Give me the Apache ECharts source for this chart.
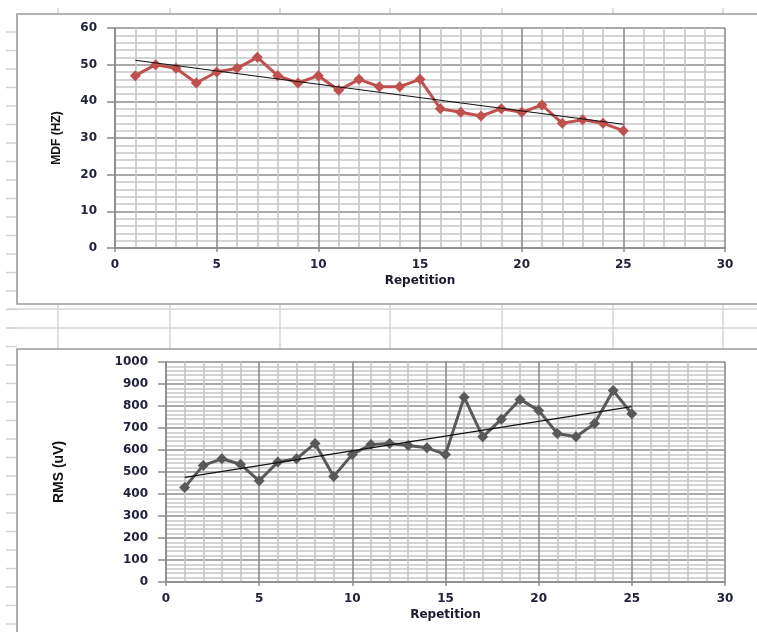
<!DOCTYPE html>
<html>
<head>
<meta charset="utf-8">
<script src="https://cdn.jsdelivr.net/npm/echarts@6/dist/echarts.min.js"></script>
<style>
  html, body { margin: 0; padding: 0; background: #fff; }
  #chart { width: 757px; height: 632px; }
</style>
</head>
<body>
<div id="chart"></div>
<script>
// Repetition number for both panels
const repetitions = [1,2,3,4,5,6,7,8,9,10,11,12,13,14,15,16,17,18,19,20,21,22,23,24,25];
// Median frequency per repetition (Hz)
const mdfValues = [47,50,49,45,48,49,52,47,45,47,43,46,44,44,46,38,37,36,38,37,39,34,35,34,32];
// RMS amplitude per repetition (uV)
const rmsValues = [430,530,560,535,460,545,560,630,480,580,625,630,620,610,580,840,660,740,830,780,675,660,720,870,765];

const xTicks = [0,5,10,15,20,25,30];
const mdfTicks = [0,10,20,30,40,50,60];
const rmsTicks = [0,100,200,300,400,500,600,700,800,900,1000];

// Least-squares linear trend over a series
function linearTrend(xs, ys) {
  const n = xs.length;
  const mx = xs.reduce((a, b) => a + b, 0) / n;
  const my = ys.reduce((a, b) => a + b, 0) / n;
  let sxy = 0, sxx = 0;
  for (let i = 0; i < n; i++) {
    sxy += (xs[i] - mx) * (ys[i] - my);
    sxx += (xs[i] - mx) * (xs[i] - mx);
  }
  const slope = sxy / sxx;
  const icpt = my - slope * mx;
  const x0 = xs[0], x1 = xs[n - 1];
  return [[x0, icpt + slope * x0], [x1, icpt + slope * x1]];
}

const pair = (xs, ys) => xs.map((x, i) => [x, ys[i]]);

const labelFont = { fontFamily: 'DejaVu Sans', fontWeight: 'bold', fontSize: 12, color: '#22223c' };
const titleFont = { fontFamily: 'Liberation Sans Narrow, Liberation Sans, Arial', fontWeight: 'bold', color: '#111' };

function xAxisFor(gridIndex) {
  return {
    type: 'value', gridIndex: gridIndex,
    min: xTicks[0], max: xTicks[xTicks.length - 1], interval: 5,
    name: 'Repetition', nameLocation: 'middle', nameGap: 27,
    nameTextStyle: Object.assign({}, labelFont, { fontSize: 12, color: '#1a1a30' }),
    axisLine: { show: true, lineStyle: { color: '#8a8a8a', width: 1.5 } },
    axisTick: { show: true, length: 4, lineStyle: { color: '#8a8a8a', width: 1.5 } },
    axisLabel: Object.assign({ margin: 11, formatter: v => String(v) }, labelFont),
    splitLine: { show: true, lineStyle: { color: '#8c8c8c', width: 1.6 } },
    minorTick: { show: false, splitNumber: 5 },
    minorSplitLine: { show: true, lineStyle: { color: '#c6c6c6', width: 1.6 } }
  };
}

function yAxisFor(gridIndex, ticks, name, gap, nameSize) {
  return {
    type: 'value', gridIndex: gridIndex,
    min: ticks[0], max: ticks[ticks.length - 1], interval: ticks[1] - ticks[0],
    name: name, nameLocation: 'middle', nameRotate: 90, nameGap: gap,
    nameTextStyle: Object.assign({}, titleFont, { fontSize: nameSize }),
    axisLine: { show: true, lineStyle: { color: '#8a8a8a', width: 1.5 } },
    axisTick: { show: true, length: 8, lineStyle: { color: '#8a8a8a', width: 1.5 } },
    axisLabel: Object.assign({ margin: 18, formatter: v => String(v) }, labelFont),
    splitLine: { show: true, lineStyle: { color: '#8c8c8c', width: 1.6 } },
    minorTick: { show: false, splitNumber: 5 },
    minorSplitLine: { show: true, lineStyle: { color: '#c6c6c6', width: 1.6 } }
  };
}

// Worksheet cell borders and chart frames behind the plots
const sheetLine = '#d4d4d4';
const cellCols = [58, 170, 280, 390, 502, 613, 723];
const graphics = [];
cellCols.forEach(x => {
  graphics.push({ type: 'line', z: -20, shape: { x1: x, y1: 304, x2: x, y2: 349 }, style: { stroke: sheetLine, lineWidth: 1.5 } });
  graphics.push({ type: 'line', z: -20, shape: { x1: x, y1: 8, x2: x, y2: 14 }, style: { stroke: sheetLine, lineWidth: 1.5 } });
});
[309, 328].forEach(y => {
  graphics.push({ type: 'line', z: -20, shape: { x1: 8, y1: y, x2: 757, y2: y }, style: { stroke: sheetLine, lineWidth: 1.5 } });
});
for (let y = 32; y < 632; y += 18.5) {
  graphics.push({ type: 'line', z: -20, shape: { x1: 6, y1: y, x2: 17, y2: y }, style: { stroke: sheetLine, lineWidth: 1.5 } });
}
graphics.push({ type: 'rect', z: -10, shape: { x: 17, y: 14, width: 750, height: 290 }, style: { fill: '#fff', stroke: '#9a9a9a', lineWidth: 1.6 } });
graphics.push({ type: 'rect', z: -10, shape: { x: 17, y: 349, width: 750, height: 300 }, style: { fill: '#fff', stroke: '#9a9a9a', lineWidth: 1.6 } });

const option = {
  backgroundColor: '#ffffff',
  animation: false,
  graphic: graphics,
  grid: [
    { left: 115, top: 28, width: 610, height: 220 },
    { left: 166, top: 362, width: 559, height: 220 }
  ],
  xAxis: [xAxisFor(0), xAxisFor(1)],
  yAxis: [
    yAxisFor(0, mdfTicks, 'MDF (HZ)', 52, 12),
    yAxisFor(1, rmsTicks, 'RMS (uV)', 100, 14)
  ],
  series: [
    {
      type: 'line', xAxisIndex: 0, yAxisIndex: 0,
      data: pair(repetitions, mdfValues),
      symbol: 'diamond', symbolSize: 11,
      itemStyle: { color: '#c0504d' },
      lineStyle: { color: '#c0504d', width: 3 },
      z: 3
    },
    {
      type: 'line', xAxisIndex: 0, yAxisIndex: 0,
      data: linearTrend(repetitions, mdfValues),
      symbol: 'none',
      lineStyle: { color: '#111', width: 1.2 },
      z: 4
    },
    {
      type: 'line', xAxisIndex: 1, yAxisIndex: 1,
      data: pair(repetitions, rmsValues),
      symbol: 'diamond', symbolSize: 11,
      itemStyle: { color: '#595959' },
      lineStyle: { color: '#595959', width: 3 },
      z: 3
    },
    {
      type: 'line', xAxisIndex: 1, yAxisIndex: 1,
      data: linearTrend(repetitions, rmsValues),
      symbol: 'none',
      lineStyle: { color: '#111', width: 1.2 },
      z: 4
    }
  ]
};

const chart = echarts.init(document.getElementById('chart'), null, { renderer: 'canvas' });
chart.setOption(option);
</script>
</body>
</html>
